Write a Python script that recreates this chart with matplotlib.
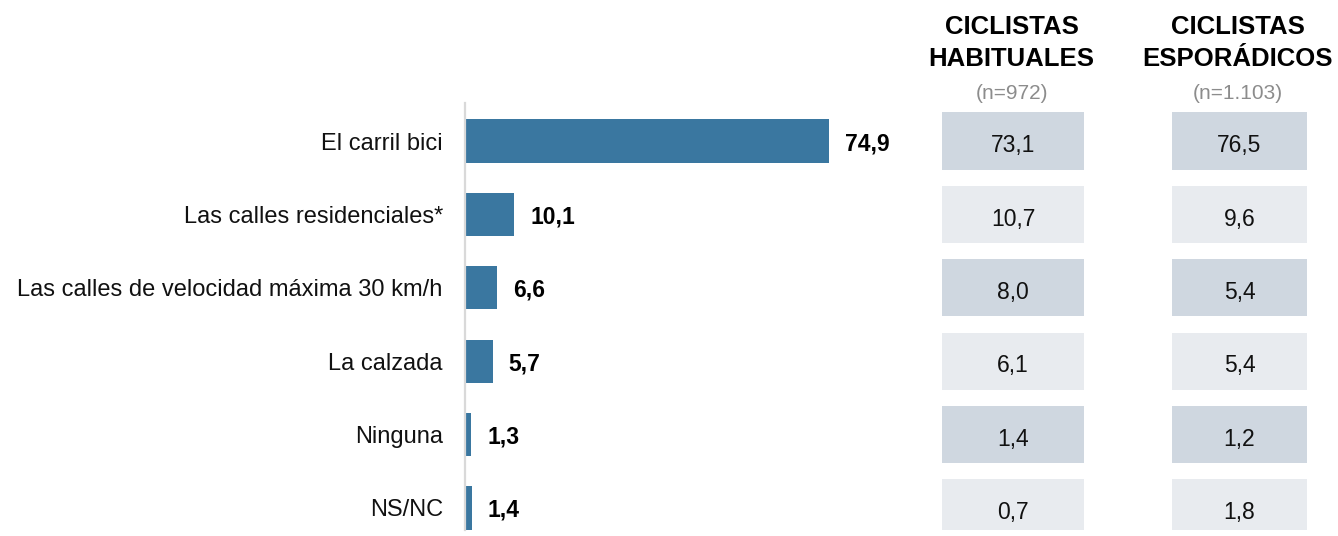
import matplotlib
matplotlib.use("Agg")
import matplotlib.pyplot as plt
from matplotlib import font_manager as fm

# Survey data
categories = [
    "El carril bici",
    "Las calles residenciales*",
    "Las calles de velocidad máxima 30 km/h",
    "La calzada",
    "Ninguna",
    "NS/NC",
]
total = [74.9, 10.1, 6.6, 5.7, 1.3, 1.4]
habituales = [73.1, 10.7, 8.0, 6.1, 1.4, 0.7]
esporadicos = [76.5, 9.6, 5.4, 5.4, 1.2, 1.8]
group_titles = ["CICLISTAS\nHABITUALES", "CICLISTAS\nESPORÁDICOS"]
group_sizes = ["(n=972)", "(n=1.103)"]


def find_font(stem):
    for path in fm.findSystemFonts():
        if path.split("/")[-1].startswith(stem + "."):
            return fm.FontProperties(fname=path)
    return None


regular = find_font("LiberationSans-Regular") or fm.FontProperties(family="DejaVu Sans")
bold = find_font("LiberationSans-Bold") or fm.FontProperties(family="DejaVu Sans", weight="bold")


def fp(base, size):
    p = base.copy()
    p.set_size(size)
    return p


W, H = 1338, 536
fig = plt.figure(figsize=(W / 100, H / 100), dpi=100)

BAR_COLOR = "#3A77A0"
DARK_CELL = "#CFD7E0"
LIGHT_CELL = "#E8EBEF"
AXIS_GRAY = "#D9D9D9"


def fx(px):
    return px / W


def fy(px_from_top):
    return 1 - px_from_top / H


# Main bar chart
top_px, bottom_px = 103, 530
ax = fig.add_axes([fx(465), fy(bottom_px), fx(435), (bottom_px - top_px) / H])
rows = list(range(len(categories)))
ax.barh(rows, total, height=0.59, color=BAR_COLOR)
ax.set_xlim(0, 435 / 4.86)
ax.set_ylim(5.3, -0.518)
ax.set_yticks(rows)
ax.set_yticklabels(categories, fontproperties=fp(regular, 17), color="#111111")
ax.tick_params(axis="y", length=0, pad=16)
ax.set_xticks([])
for side in ["top", "right", "bottom"]:
    ax.spines[side].set_visible(False)
ax.spines["left"].set_color(AXIS_GRAY)
ax.spines["left"].set_linewidth(1.6)
for r, v in zip(rows, total):
    ax.annotate(f"{v:.1f}".replace(".", ","), xy=(v, r), xytext=(11.5, 0),
                textcoords="offset points", va="center_baseline", ha="left",
                fontproperties=fp(bold, 16.5), color="#000000")

# Side tables for the two cyclist groups
columns = [(942, 142, habituales), (1172, 135, esporadicos)]
for (left, width, values), title, size in zip(columns, group_titles, group_sizes):
    tax = fig.add_axes([fx(left), fy(bottom_px), fx(width), (bottom_px - top_px) / H])
    colors = [DARK_CELL if i % 2 == 0 else LIGHT_CELL for i in rows]
    tax.barh(rows, [1] * len(rows), height=0.78, color=colors)
    tax.set_xlim(0, 1)
    tax.set_ylim(5.3, -0.518)
    tax.axis("off")
    for r, v in zip(rows, values):
        tax.text(0.5, r + 0.03, f"{v:.1f}".replace(".", ","), ha="center",
                 va="center_baseline", fontproperties=fp(regular, 16.5), color="#111111")
    cx = fx(left + width / 2)
    t1, t2 = title.split("\n")
    fig.text(cx - 1.5 / W, fy(25), t1, ha="center", va="center_baseline",
             fontproperties=fp(bold, 18.5), color="#000000")
    fig.text(cx - 1.5 / W, fy(57), t2, ha="center", va="center_baseline",
             fontproperties=fp(bold, 18.5), color="#000000")
    fig.text(cx - 1.5 / W, fy(92), size, ha="center", va="center_baseline",
             fontproperties=fp(regular, 15), color="#8c8c8c")

fig.savefig("out.png", dpi=100)
